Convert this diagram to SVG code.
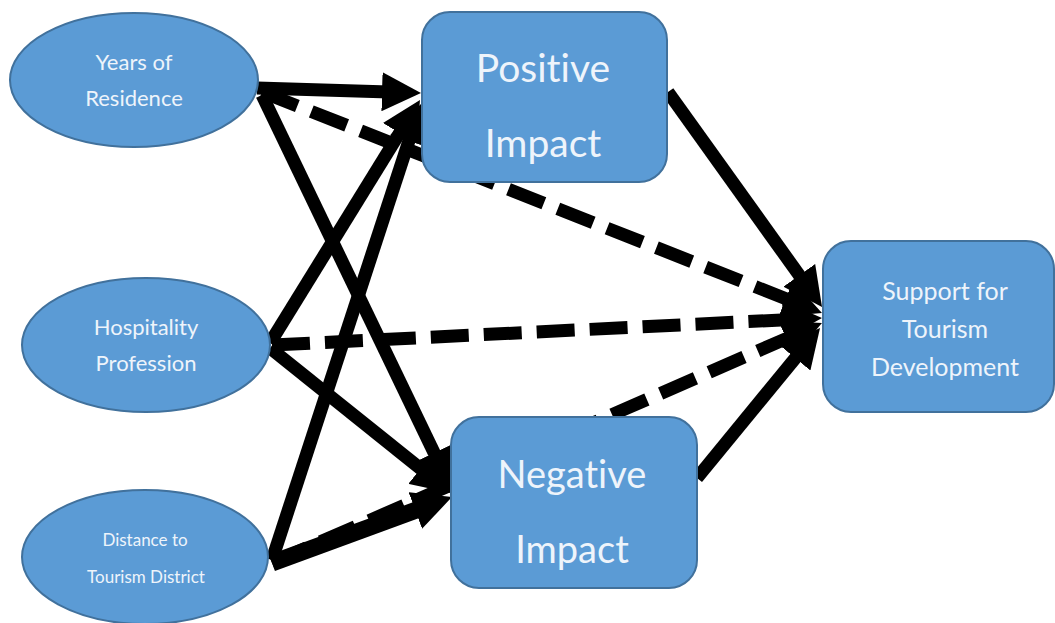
<svg xmlns="http://www.w3.org/2000/svg" width="1055" height="623" viewBox="0 0 1055 623">
<style>
.node{fill:#5b9bd5;stroke:#41719c;stroke-width:2}
.lbl{fill:#eef4fb;font-family:Lato,"Open Sans","Liberation Sans",sans-serif;text-anchor:middle;font-variant-ligatures:none}
.solid{stroke:#000;stroke-width:13;fill:none;marker-end:url(#ah)}
.dash{stroke:#000;stroke-width:13;fill:none;stroke-dasharray:38 15;marker-end:url(#ah)}
</style>
<defs>
<marker id="ah" viewBox="0 0 10 10" refX="4" refY="5" markerUnits="userSpaceOnUse" markerWidth="39" markerHeight="39" orient="auto">
<path d="M0,0 L10,5 L0,10 z" fill="#000"/>
</marker>
</defs>
<rect width="1055" height="623" fill="#fff"/>
<g id="connectors">
<line class="dash" x1="262" y1="92" x2="800.2" y2="304.4"/>
<line class="dash" x1="272" y1="345" x2="798.6" y2="319.1"/>
<line class="dash" x1="272" y1="563" x2="800.5" y2="332.4"/>
<line class="solid" x1="257" y1="88" x2="397.6" y2="92.3"/>
<line class="solid" x1="270" y1="343" x2="407.7" y2="119.9"/>
<line class="solid" x1="272" y1="560" x2="413.7" y2="126.2"/>
<line class="solid" x1="262" y1="95" x2="440.9" y2="466.9"/>
<line class="solid" x1="270" y1="348" x2="432.7" y2="478.4"/>
<line class="solid" x1="272" y1="563" x2="430" y2="505.1" style="stroke-width:17"/>
<line class="solid" x1="668" y1="92" x2="808.4" y2="288"/>
<line class="solid" x1="697" y1="478" x2="805.2" y2="346.1"/>
</g>
<g id="years-of-residence">
<ellipse class="node" cx="134" cy="80" rx="124" ry="67"/>
<text class="lbl" font-size="22" x="134" y="70">Years of</text>
<text class="lbl" font-size="22" x="134" y="106">Residence</text>
</g>
<g id="hospitality-profession">
<ellipse class="node" cx="146" cy="345" rx="124" ry="67"/>
<text class="lbl" font-size="22" x="146" y="335">Hospitality</text>
<text class="lbl" font-size="22" x="146" y="371">Profession</text>
</g>
<g id="distance-to-tourism-district">
<ellipse class="node" cx="145" cy="557" rx="123" ry="67"/>
<text class="lbl" font-size="17" x="145" y="546">Distance to</text>
<text class="lbl" font-size="17" x="146" y="583">Tourism District</text>
</g>
<g id="positive-impact">
<rect class="node" x="422" y="12" width="245" height="170" rx="28"/>
<text class="lbl" font-size="39" x="543" y="82">Positive</text>
<text class="lbl" font-size="39" x="543" y="157">Impact</text>
</g>
<g id="negative-impact">
<rect class="node" x="451" y="417" width="246" height="171" rx="28"/>
<text class="lbl" font-size="38" x="572" y="488">Negative</text>
<text class="lbl" font-size="38" x="572" y="563">Impact</text>
</g>
<g id="support-for-tourism-development">
<rect class="node" x="823" y="241" width="231" height="171" rx="28"/>
<text class="lbl" font-size="25" x="945" y="300">Support for</text>
<text class="lbl" font-size="25" x="945" y="338">Tourism</text>
<text class="lbl" font-size="25" x="945" y="376">Development</text>
</g>
</svg>
